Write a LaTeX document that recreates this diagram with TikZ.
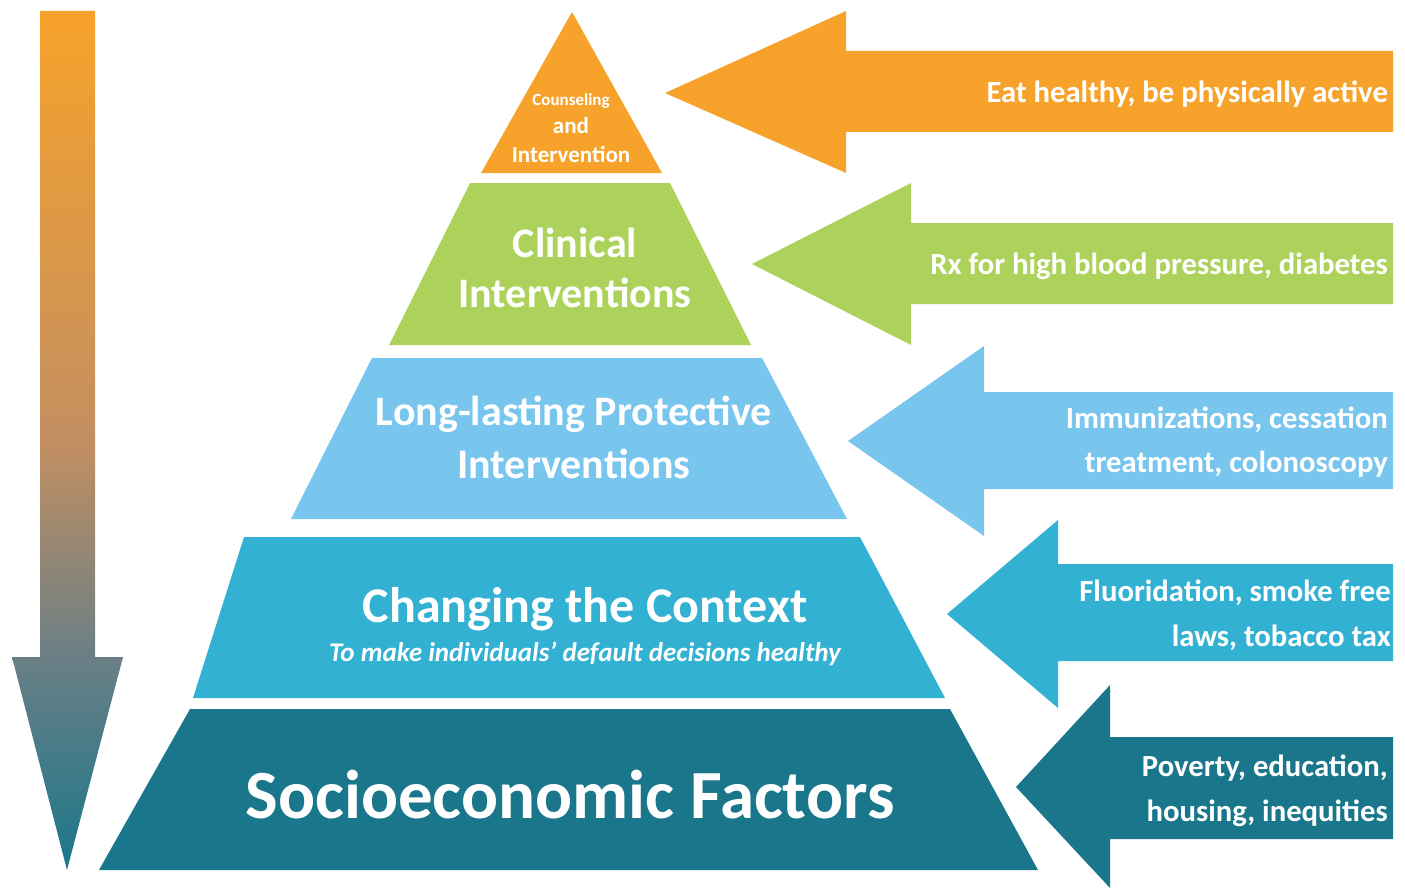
\documentclass[tikz,border=0pt]{standalone}
\usepackage{fontspec}
\setmainfont{Carlito}
\definecolor{orangeA}{HTML}{F7A22A}
\definecolor{greenB}{HTML}{ACD25B}
\definecolor{blueC}{HTML}{78C5ED}
\definecolor{tealC}{HTML}{33B1D3}
\definecolor{tealD}{HTML}{1A778B}
\definecolor{grayM}{HTML}{6B7F85}
\definecolor{tanM}{HTML}{C38F61}
\pgfdeclareverticalshading{downfade}{100bp}{color(0bp)=(tealD); color(25bp)=(tealD); color(37.5bp)=(grayM); color(50bp)=(tanM); color(75bp)=(orangeA); color(100bp)=(orangeA)}
\newcommand{\fs}[1]{\fontsize{#1}{1.2\dimexpr#1pt\relax}\selectfont}
\tikzset{
  lbl/.style={text=white, font=\bfseries, inner sep=0pt, align=center},
  side/.style={text=white, font=\bfseries\fs{30.7}, inner sep=0pt, align=right, anchor=east},
}
\begin{document}
\begin{tikzpicture}[x=1pt,y=-1pt]
\useasboundingbox (0,0) rectangle (1405,888);
% descending gradient arrow on the left
\shade[shading=downfade] (40,11) -- (95,11) -- (95,657) -- (123,657) -- (67,870) -- (12,657) -- (40,657) -- cycle;

% pyramid tiers
\fill[orangeA] (572,12) -- (662,173) -- (481,173) -- cycle;
\fill[greenB] (470,183) -- (670,183) -- (751,345) -- (389,345) -- cycle;
\fill[blueC] (372,358) -- (762,358) -- (847,519) -- (291,519) -- cycle;
\fill[tealC] (244,537) -- (860,537) -- (945,698) -- (193,698) -- cycle;
\fill[tealD] (190,709) -- (950,709) -- (1038,870) -- (99,870) -- cycle;

% arrows pointing at the tiers
\fill[orangeA] (665,93) -- (846,11) -- (846,51) -- (1393,51) -- (1393,132) -- (846,132) -- (846,173) -- cycle;
\fill[greenB] (752,264) -- (911,183) -- (911,223) -- (1393,223) -- (1393,304) -- (911,304) -- (911,345) -- cycle;
\fill[blueC] (848,441) -- (984,346) -- (984,392) -- (1393,392) -- (1393,489) -- (984,489) -- (984,536) -- cycle;
\fill[tealC] (947,614) -- (1058,520) -- (1058,564) -- (1393,564) -- (1393,661) -- (1058,661) -- (1058,708) -- cycle;
\fill[tealD] (1016,787) -- (1110,685) -- (1110,737) -- (1393,737) -- (1393,839) -- (1110,839) -- (1110,888) -- cycle;

% tier labels
\node[lbl, font=\bfseries\fs{17}] (t1a) at (571,101) {Counseling};
\node[lbl, font=\bfseries\fs{23}] (t1b) at (571,126) {and};
\node[lbl, font=\bfseries\fs{23}] (t1c) at (571,154) {Intervention};
\node[lbl, font=\bfseries\fs{42}] (t2a) at (575,243) {Clinical};
\node[lbl, font=\bfseries\fs{42}] (t2b) at (575,293) {Interventions};
\node[lbl, font=\bfseries\fs{42}] (t3a) at (574,414) {Long-lasting Protective};
\node[lbl, font=\bfseries\fs{42}] (t3b) at (574,464) {Interventions};
\node[lbl, font=\bfseries\fs{50}] (t4a) at (585,609) {Changing the Context};
\node[lbl, font=\bfseries\itshape\fs{27}] (t4b) at (585,654) {To make individuals’ default decisions healthy};
\node[lbl, font=\bfseries\fs{69}] (t5) at (570,795) {Socioeconomic Factors};

% arrow labels
\node[side] (a1) at (1388,94) {Eat healthy, be physically active};
\node[side] (a2) at (1388,266) {Rx for high blood pressure, diabetes};
\node[side] (a3a) at (1388,420) {Immunizations, cessation};
\node[side] (a3b) at (1388,464) {treatment, colonoscopy};
\node[side] (a4a) at (1391,593) {Fluoridation, smoke free};
\node[side] (a4b) at (1391,638) {laws, tobacco tax};
\node[side] (a5a) at (1388,768) {Poverty, education,};
\node[side] (a5b) at (1388,813) {housing, inequities};
\end{tikzpicture}
\end{document}
